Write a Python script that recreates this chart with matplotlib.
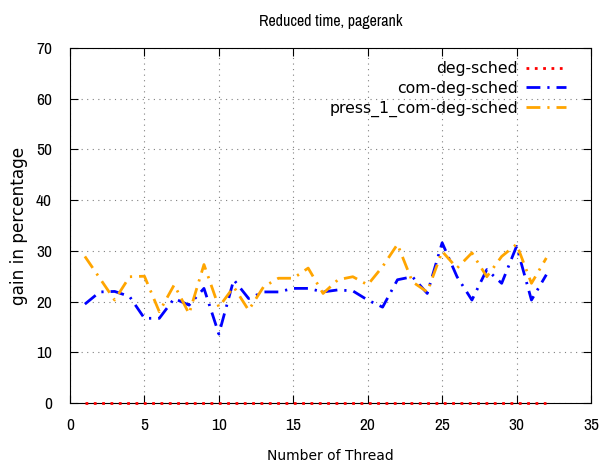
import matplotlib.pyplot as plt
from matplotlib import font_manager

# narrow font for the title and ticks, if one is installed
narrow = 'DejaVu Sans'
for f in font_manager.fontManager.ttflist:
    if 'Narrow' in f.name or 'Condensed' in f.name:
        narrow = f.name
        break
plt.rcParams['font.family'] = ['DejaVu Sans']

threads = list(range(1, 33))
deg_sched = [0] * 32
com_deg_sched = [19.5, 21.9, 22.0, 21.0, 16.7, 16.7, 20.6, 19.3, 22.6, 13.6,
                 24.3, 20.6, 21.9, 21.9, 22.6, 22.6, 21.9, 22.3, 22.1, 20.3,
                 18.9, 24.3, 24.9, 21.6, 31.6, 24.9, 20.3, 26.3, 23.6, 30.9,
                 20.3, 25.3]
press_1 = [28.9, 24.6, 20.3, 24.9, 25.0, 18.0, 23.3, 17.6, 27.3, 18.9,
           22.9, 18.3, 22.9, 24.6, 24.6, 26.6, 21.6, 24.3, 24.9, 23.3,
           26.9, 31.3, 23.9, 21.9, 29.9, 26.6, 29.6, 24.9, 28.9, 31.3,
           23.6, 28.6]

fig = plt.figure(figsize=(6.08, 4.68), dpi=100)
ax = fig.add_axes([70 / 608, 1 - 403 / 468, 521 / 608, 355 / 468])

ax.plot(threads, deg_sched, color='red', linestyle=(0, (1, 2)), linewidth=2,
        label='deg-sched', zorder=5, clip_on=False)
ax.plot(threads, com_deg_sched, color='blue', linestyle=(0, (5, 2.5, 0.8, 2.5)), linewidth=2, label='com-deg-sched')
ax.plot(threads, press_1, color='orange', linestyle=(0, (5, 2.5, 0.8, 2.5)), linewidth=2, label='press_1_com-deg-sched')

ax.set_xlim(0, 35)
ax.set_ylim(0, 70)
ax.set_xticks(range(0, 36, 5))
ax.set_yticks(range(0, 71, 10))
ax.tick_params(direction='in', top=True, right=True, length=6)
ax.tick_params(axis='x', pad=11)
ax.tick_params(axis='y', pad=13)
for lab in ax.get_xticklabels() + ax.get_yticklabels():
    lab.set_family(narrow)
    lab.set_fontsize(12.5)
ax.grid(True, linestyle=(0, (1, 4)), color='gray', linewidth=0.8)

ax.set_title('Reduced time, pagerank', fontsize=11.5, pad=16, family=narrow)
ax.set_xlabel('Number of Thread', fontsize=10, labelpad=11)
ax.set_ylabel('gain in percentage', fontsize=12.2, labelpad=6)

ax.legend(loc='upper right', bbox_to_anchor=(0.9635, 0.981), borderaxespad=0,
          frameon=False, markerfirst=False, fontsize=11.3,
          handlelength=2.5, handletextpad=0.55, labelspacing=0.31)

fig.savefig('out.png', dpi=100)
